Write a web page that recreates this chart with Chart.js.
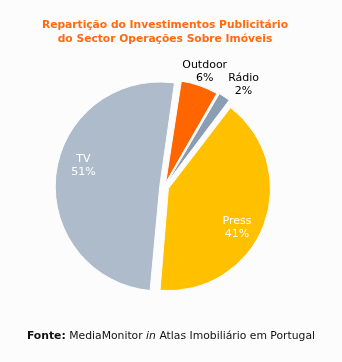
<!DOCTYPE html>
<html>
<head>
<meta charset="utf-8">
<script src="https://cdn.jsdelivr.net/npm/chart.js@4/dist/chart.umd.min.js"></script>
<style>
  html, body { margin: 0; padding: 0; background: #fcfcfc; }
  #wrap { position: relative; width: 342px; height: 362px; overflow: hidden; font-family: "DejaVu Sans", Verdana, sans-serif; }
  #title { position: absolute; left: 0; top: 18px; width: 330px; text-align: center; color: #ff6a10; font-weight: bold; font-size: 10.7px; line-height: 14px; }
  #source { position: absolute; left: 0; top: 329px; width: 342px; text-align: center; color: #111; font-size: 10.8px; line-height: 14px; }
  #chart { position: absolute; left: 0; top: 0; }
</style>
</head>
<body>
<div id="wrap">
  <canvas id="chart" width="342" height="362"></canvas>
  <div id="title">Repartição do Investimentos Publicitário<br>do Sector Operações Sobre Imóveis</div>
  <div id="source"><b>Fonte:</b> MediaMonitor <i>in</i> Atlas Imobiliário em Portugal</div>
</div>
<script>
// Media shares, clockwise from the top
const categories = ['Outdoor', 'Rádio', 'Press', 'TV'];
const shares = [6, 2, 41, 51];
const percentLabels = ['6%', '2%', '41%', '51%'];

const sliceColors = ['#ff6600', '#8a9db2', '#ffc000', '#aebbca'];
// Every slice is pulled out a little; Chart.js v4 moves an arc by a quarter of this value
const explode = 18;
const labelOutside = [true, true, false, false];

// Draws "name / value%" labels: small slices outside the rim, large ones inside.
// Outside labels are nudged sideways so they never overlap each other.
const sliceLabels = {
  id: 'sliceLabels',
  afterDatasetsDraw(chart) {
    const ctx = chart.ctx;
    const meta = chart.getDatasetMeta(0);
    const lineGap = 13;
    ctx.save();
    ctx.font = '11px "DejaVu Sans", Verdana, sans-serif';
    ctx.textAlign = 'center';
    ctx.textBaseline = 'middle';
    let prevBox = null;
    meta.data.forEach((arc, i) => {
      const p = arc.getProps(['x', 'y', 'startAngle', 'endAngle', 'outerRadius'], true);
      const mid = (p.startAngle + p.endAngle) / 2;
      const off = (arc.options.offset || 0) / 4;
      const vx = p.x + Math.cos(mid) * off;
      const vy = p.y + Math.sin(mid) * off;
      const w = Math.max(ctx.measureText(categories[i]).width, ctx.measureText(percentLabels[i]).width);
      let ang, r;
      if (labelOutside[i]) {
        ang = mid;
        r = p.outerRadius + 18;
        ctx.fillStyle = '#000';
      } else {
        ang = mid + 8.5 * Math.PI / 180;
        r = p.outerRadius * 0.79;
        ctx.fillStyle = '#fff';
      }
      let cx = vx + Math.cos(ang) * r;
      const cy = vy + Math.sin(ang) * r;
      if (labelOutside[i]) {
        if (prevBox && cx - w / 2 < prevBox.right + 1 && Math.abs(cy - prevBox.cy) < 2 * lineGap) {
          cx = prevBox.right + 1 + w / 2;
        }
        prevBox = { right: cx + w / 2, cy };
      }
      ctx.fillText(categories[i], cx, cy - lineGap / 2);
      ctx.fillText(percentLabels[i], cx, cy + lineGap / 2);
    });
    ctx.restore();
  }
};

new Chart(document.getElementById('chart'), {
  type: 'pie',
  data: {
    labels: categories,
    datasets: [{
      data: shares,
      backgroundColor: sliceColors,
      borderColor: '#fcfcfc',
      borderWidth: 1,
      offset: explode,
      hoverOffset: 0
    }]
  },
  options: {
    responsive: false,
    animation: false,
    rotation: 8.5,
    layout: { padding: { left: 54.7, right: 68.3, top: 77.5, bottom: 65.5 } },
    plugins: {
      legend: { display: false },
      tooltip: { enabled: false },
      title: { display: false }
    },
    events: []
  },
  plugins: [sliceLabels]
});
</script>
</body>
</html>
